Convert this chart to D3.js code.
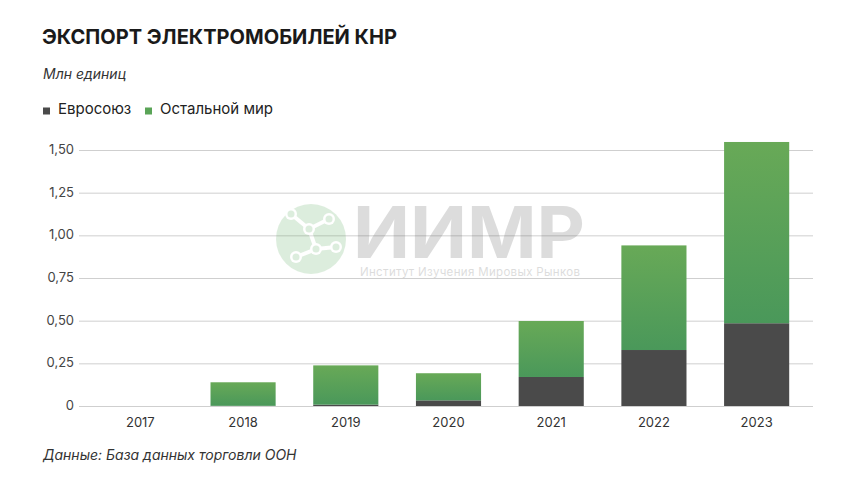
<!DOCTYPE html>
<html><head><meta charset="utf-8">
<script src="https://cdn.jsdelivr.net/npm/d3@7"></script>
<style>
body{margin:0;background:#fff;}
svg{display:block;font-family:"Inter","Noto Sans",sans-serif;}
</style></head>
<body><svg id="c" width="860" height="484"></svg>
<script>
const years = ["2017","2018","2019","2020","2021","2022","2023"];
const euValues = [0, 0.001, 0.008, 0.033, 0.17, 0.328, 0.485];
const restValues = [0, 0.138, 0.230, 0.159, 0.328, 0.613, 1.062];
const yTicks = [0, 0.25, 0.5, 0.75, 1.0, 1.25, 1.5];
const yTickLabels = ["0","0,25","0,50","0,75","1,00","1,25","1,50"];
const seriesNames = ["Евросоюз","Остальной мир"];

const svg = d3.select("#c");
const defs = svg.append("defs");
const g1 = defs.append("linearGradient").attr("id","gr").attr("x1",0).attr("y1",0).attr("x2",0).attr("y2",1);
g1.append("stop").attr("offset","0%").attr("stop-color","#68a957");
g1.append("stop").attr("offset","100%").attr("stop-color","#4a985a");

const x = d3.scaleBand().domain(years).range([89,808]).paddingInner(0.366).paddingOuter(0.183);
const y = d3.scaleLinear().domain([0,1.5]).range([406,150]);

// title
svg.append("text").attr("x",42).attr("y",44).attr("font-size",20).attr("font-weight",700)
  .attr("fill","#1a1a1a").attr("textLength",355).attr("lengthAdjust","spacingAndGlyphs")
  .text("ЭКСПОРТ ЭЛЕКТРОМОБИЛЕЙ КНР");
svg.append("text").attr("x",43).attr("y",79).attr("font-size",14).attr("font-style","italic")
  .attr("fill","#333").text("Млн единиц");

// legend
const leg = [{n:seriesNames[0],c:"#4a4a4a",x:43},{n:seriesNames[1],c:"#5aa457",x:145}];
leg.forEach(l=>{
  svg.append("rect").attr("x",l.x).attr("y",107.5).attr("width",7).attr("height",7).attr("fill",l.c);
  svg.append("text").attr("x",l.x+15).attr("y",114).attr("font-size",15).attr("fill","#222").text(l.n);
});

// gridlines
const grid = svg.append("g");
grid.selectAll("line").data(yTicks).join("line")
  .attr("x1",79).attr("x2",813).attr("y1",d=>y(d)+0.5).attr("y2",d=>y(d)+0.5)
  .attr("stroke","#cfcfcf").attr("stroke-width",1);
grid.selectAll("text").data(yTicks).join("text")
  .attr("x",74).attr("y",d=>y(d)+4).attr("text-anchor","end").attr("font-size",13)
  .attr("fill","#444").text((d,i)=>yTickLabels[i]);

// watermark
const wm = svg.append("g").attr("opacity",0.2);
const gc = wm.append("g").attr("transform","translate(311,239)");
gc.append("circle").attr("r",35).attr("fill","#57a85a");
gc.append("path").attr("d","M-20,-25 L-2,-10 L18,-20 M-2,-10 L5,10 L-15,18 M5,10 L25,8")
  .attr("stroke","#fff").attr("stroke-width",4).attr("fill","none");
[[-20,-25],[18,-20],[-15,18],[25,8],[-2,-10],[5,10]].forEach(p=>{
  gc.append("circle").attr("cx",p[0]).attr("cy",p[1]).attr("r",6).attr("fill","#fff");
  gc.append("circle").attr("cx",p[0]).attr("cy",p[1]).attr("r",3.5).attr("fill","#57a85a");
});
wm.append("text").attr("x",353).attr("y",258).attr("font-size",72).attr("font-weight",700)
  .attr("fill","#555").attr("textLength",232).attr("lengthAdjust","spacingAndGlyphs").text("ИИМР");
wm.append("text").attr("x",360).attr("y",276).attr("font-size",11.5).attr("fill","#555")
  .attr("textLength",220).text("Институт Изучения Мировых Рынков");

// bars
const bars = svg.append("g");
bars.selectAll("rect.eu").data(years).join("rect").attr("class","eu")
  .attr("x",d=>x(d)).attr("width",x.bandwidth())
  .attr("y",(d,i)=>y(euValues[i])).attr("height",(d,i)=>y(0)-y(euValues[i]))
  .attr("fill","#4a4a4a");
bars.selectAll("rect.rest").data(years).join("rect").attr("class","rest")
  .attr("x",d=>x(d)).attr("width",x.bandwidth())
  .attr("y",(d,i)=>y(euValues[i]+restValues[i])).attr("height",(d,i)=>y(euValues[i])-y(euValues[i]+restValues[i]))
  .attr("fill","url(#gr)");

// x labels
svg.append("g").selectAll("text").data(years).join("text")
  .attr("x",d=>x(d)+x.bandwidth()/2).attr("y",427).attr("text-anchor","middle")
  .attr("font-size",13).attr("fill","#333").text(d=>d);

// footer
svg.append("text").attr("x",43).attr("y",460).attr("font-size",14).attr("font-style","italic")
  .attr("fill","#333").text("Данные: База данных торговли ООН");
</script></body></html>
